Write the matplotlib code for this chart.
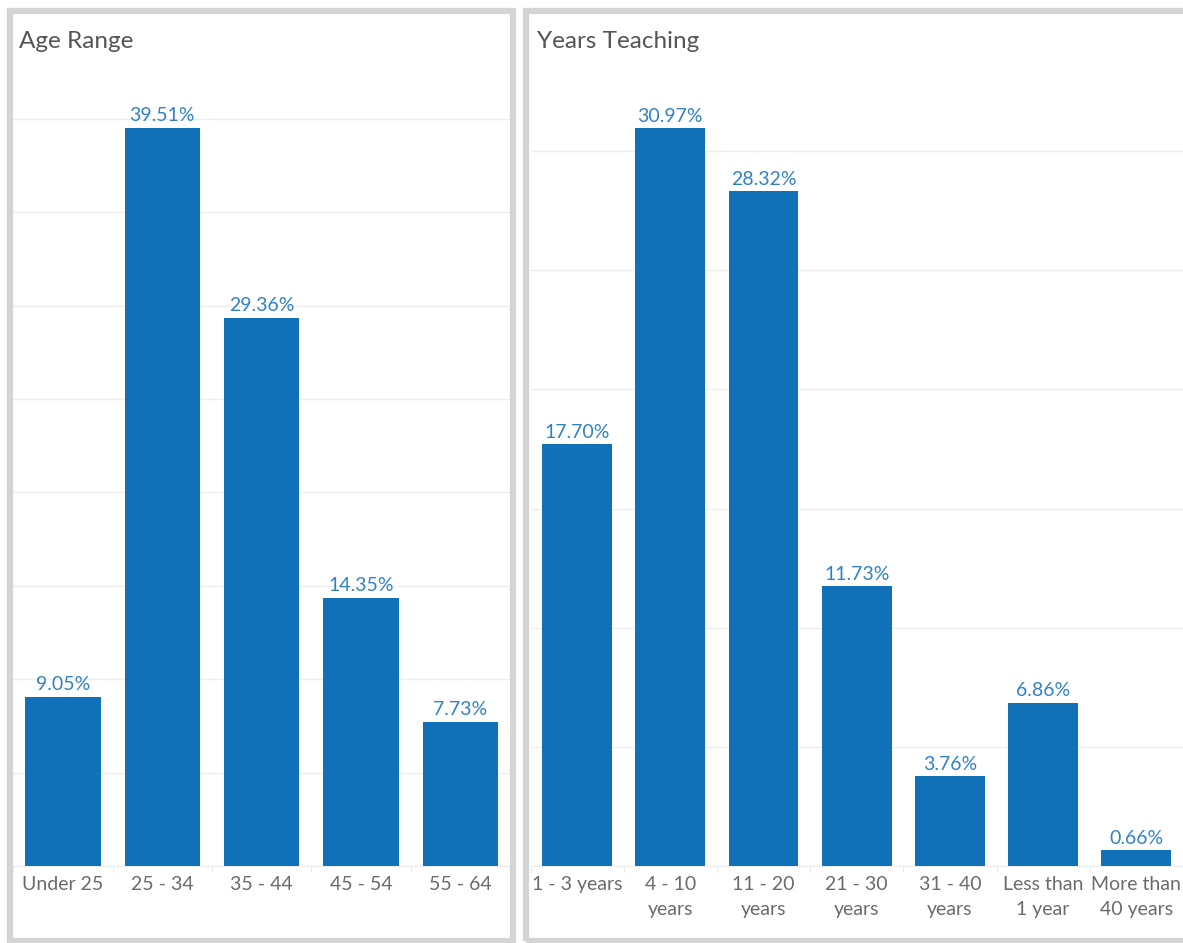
import matplotlib.pyplot as plt
from matplotlib.patches import Rectangle
import numpy as np

plt.rcParams['font.family'] = ['Lato', 'DejaVu Sans']

# Data
age_labels = ["Under 25", "25 - 34", "35 - 44", "45 - 54", "55 - 64"]
age_pct = [9.05, 39.51, 29.36, 14.35, 7.73]

years_labels = ["1 - 3 years", "4 - 10\nyears", "11 - 20\nyears", "21 - 30\nyears",
                "31 - 40\nyears", "Less than\n1 year", "More than\n40 years"]
years_pct = [17.70, 30.97, 28.32, 11.73, 3.76, 6.86, 0.66]

bar_color = "#1070b8"
label_color = "#3282c6"
tick_color = "#6b6b6b"
title_color = "#555555"
grid_color = "#eeeeee"
frame_color = "#d4d4d4"

W, H = 1183, 943
fig = plt.figure(figsize=(W / 100, H / 100), dpi=100)

# panel frames
def frame(x0, y0, x1, y1):
    fig.add_artist(Rectangle((x0 / W, 1 - y1 / H), (x1 - x0) / W, (y1 - y0) / H,
                             transform=fig.transFigure, fill=False,
                             edgecolor=frame_color, linewidth=4.5))

frame(10, 11, 513, 941)
frame(526, 11, 1190, 941)


def draw_panel(rect, labels, values, ymax, width, title, title_x):
    ax = fig.add_axes(rect)
    x = np.arange(len(labels))
    ax.bar(x, values, width=width, color=bar_color, zorder=3)
    for xi, v in zip(x, values):
        ax.annotate(f"{v:.2f}%", (xi, v), xytext=(0, 2.5), textcoords="offset points",
                    ha="center", va="bottom", color=label_color, fontsize=14)
    ax.set_xlim(-0.5, len(labels) - 0.5)
    ax.set_ylim(0, ymax)
    ax.set_yticks(np.arange(5, ymax, 5))
    ax.yaxis.grid(True, color=grid_color, linewidth=1, zorder=0)
    ax.tick_params(axis="y", left=False, labelleft=False)
    ax.set_xticks(x)
    ax.set_xticklabels(labels, color=tick_color, fontsize=14, linespacing=1.6)
    ax.tick_params(axis="x", length=0, pad=7)
    ax.set_xticks(np.arange(-0.5, len(labels), 1), minor=True)
    ax.tick_params(axis="x", which="minor", length=4, color="#e8e8e8")
    for s in ["top", "right", "left"]:
        ax.spines[s].set_visible(False)
    ax.spines["bottom"].set_color("#ececec")
    fig.text(title_x / W, 1 - 41 / H, title, fontsize=17.5, color=title_color,
             ha="left", va="center")
    return ax


draw_panel([13.3 / W, 77 / H, 496.7 / W, 798 / H], age_labels, age_pct,
           42.72, 0.76, "Age Range", 19)
draw_panel([530.5 / W, 77 / H, 652.5 / W, 798 / H], years_labels, years_pct,
           33.49, 0.75, "Years Teaching", 537)

fig.savefig("out.png", dpi=100)
